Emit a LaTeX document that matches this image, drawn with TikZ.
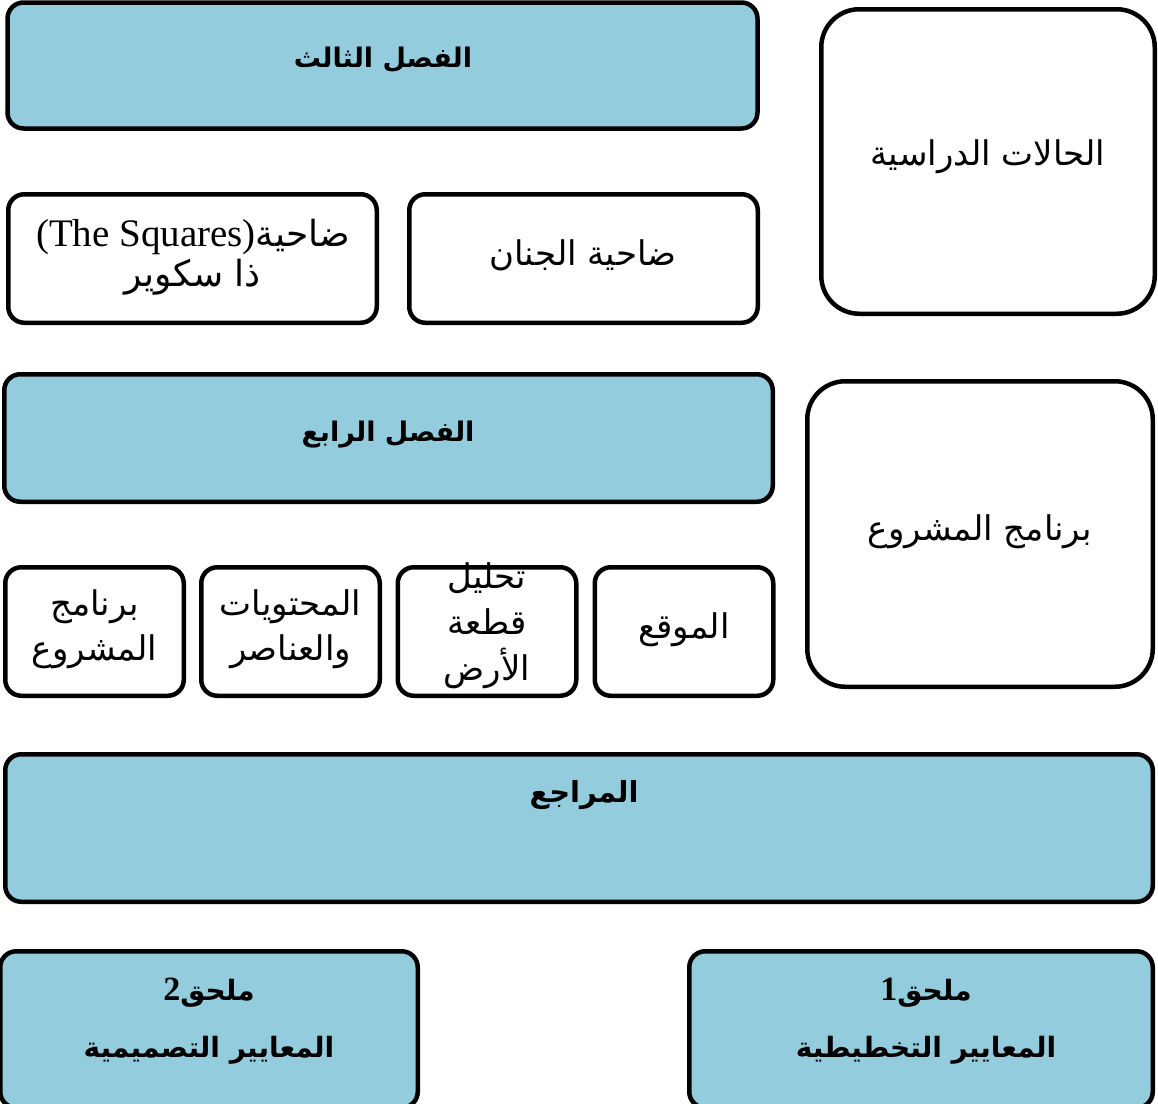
\documentclass[tikz,border=0pt]{standalone}
\usepackage{fontspec}
\setmainfont{DejaVu Sans}
\newfontfamily\arabicfont[Script=Arabic]{DejaVu Sans}
\newfontfamily\latinfont{Liberation Serif}
\TeXXeTstate=1
\definecolor{boxblue}{RGB}{147,204,221}
\newcommand{\rl}[1]{\beginR#1\endR}
\tikzset{
  box/.style={draw=black, line width=4.5pt, rounded corners=16pt, inner sep=0pt},
  bluebox/.style={box, fill=boxblue},
  bigbox/.style={box, rounded corners=38pt},
  txt/.style={font=\arabicfont\fontsize{34}{45}\selectfont, align=center, inner sep=0pt},
  btxt/.style={font=\arabicfont\bfseries\fontsize{27}{57}\selectfont, align=center, inner sep=0pt}
}
\begin{document}
\begin{tikzpicture}[x=1pt,y=-1pt]
\useasboundingbox (0,0) rectangle (1158,1103);
% boxes
\node[bluebox, minimum width=750pt, minimum height=126pt] (ch3) at (382.5,65.5) {};
\node[bigbox, minimum width=333.5pt, minimum height=304.5pt] (cases) at (988,161.5) {};
\node[box, minimum width=368.5pt, minimum height=128.5pt] (squares) at (192.5,258.5) {};
\node[box, minimum width=348.5pt, minimum height=128.5pt] (jinan) at (583.5,258.5) {};
\node[bluebox, minimum width=768.5pt, minimum height=127.5pt] (ch4) at (388.5,438) {};
\node[bigbox, minimum width=345.5pt, minimum height=305.5pt] (progR) at (980,534) {};
\node[box, minimum width=178.5pt, minimum height=128.5pt] (progS) at (94.5,631.5) {};
\node[box, minimum width=178.5pt, minimum height=128.5pt] (contents) at (290.5,631.5) {};
\node[box, minimum width=178.5pt, minimum height=128.5pt] (site) at (487,631.5) {};
\node[box, minimum width=178.5pt, minimum height=128.5pt] (loc) at (684,631.5) {};
\node[bluebox, minimum width=1147.5pt, minimum height=147.5pt] (refs) at (579,828) {};
\node[bluebox, minimum width=417.5pt, minimum height=156.5pt] (app2) at (209,1029.5) {};
\node[bluebox, minimum width=463.5pt, minimum height=156.5pt] (app1) at (921,1029.5) {};
% texts
\node[btxt] (ch3-t) at (383,60) {\rl{الفصل الثالث}};
\node[txt] (cases-t) at (988,157) {\rl{الحالات الدراسية}};
\node[txt, font=\arabicfont\fontsize{36}{40}\selectfont] (squares-t) at (193,257) {\rl{ضاحية\beginL{\latinfont\fontsize{39}{40}\selectfont(The Squares)}\endL}\\\rl{ذا سكوير}};
\node[txt] (jinan-t) at (583,255) {\rl{ضاحية الجنان}};
\node[btxt] (ch4-t) at (388,435) {\rl{الفصل الرابع}};
\node[txt] (progR-t) at (980,532) {\rl{برنامج المشروع}};
\node[txt] (progS-t) at (94.5,629) {\rl{برنامج}\\\rl{المشروع}};
\node[txt] (contents-t) at (290.5,629) {\rl{المحتويات}\\\rl{والعناصر}};
\node[txt, font=\arabicfont\fontsize{34}{46}\selectfont] (site-t) at (487,626) {\rl{تحليل}\\\rl{قطعة}\\\rl{الأرض}};
\node[txt] (loc-t) at (684,630) {\rl{الموقع}};
\node[btxt, font=\arabicfont\bfseries\fontsize{29}{57}\selectfont] (refs-t) at (584,795) {\rl{المراجع}};
\node[btxt, font=\arabicfont\bfseries\fontsize{28}{57}\selectfont] (app2-t) at (209,1021) {\rl{ملحق\beginL{\latinfont\bfseries\fontsize{34}{57}\selectfont 2}\endL}\\\rl{المعايير التصميمية}};
\node[btxt, font=\arabicfont\bfseries\fontsize{28}{57}\selectfont] (app1-t) at (926,1021) {\rl{ملحق\beginL{\latinfont\bfseries\fontsize{34}{57}\selectfont 1}\endL}\\\rl{المعايير التخطيطية}};
\end{tikzpicture}
\end{document}
